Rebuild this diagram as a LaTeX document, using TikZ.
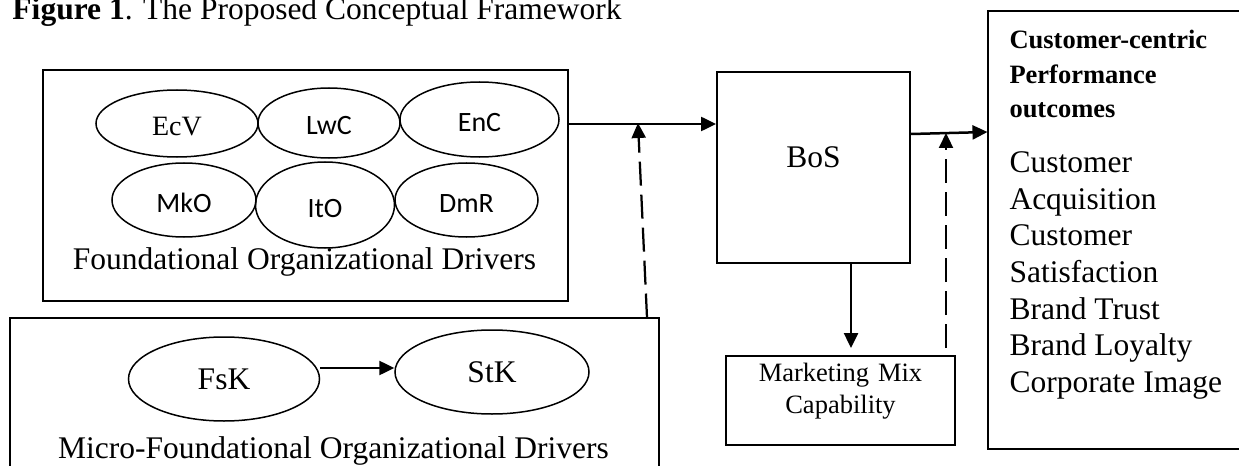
\documentclass[tikz,border=0pt]{standalone}
\usepackage{fontspec}
\setmainfont{Liberation Serif}
\newfontfamily\carlitofont{Carlito}
\usetikzlibrary{arrows.meta,shapes.geometric,fit}
\begin{document}
\begin{tikzpicture}[x=0.4pt,y=-0.4pt,
  box/.style={draw, line width=0.8pt, inner sep=0pt},
  ell/.style={draw, ellipse, line width=0.6pt, inner sep=0pt},
  sanslbl/.style={font=\carlitofont\fontsize{11.2}{13}\selectfont, text height=9.6pt, text depth=0pt},
  serlbl/.style={font=\fontsize{11.2}{13}\selectfont, text height=9.6pt, text depth=0pt},
  big/.style={font=\fontsize{12.6}{14.7}\selectfont},
  arr/.style={line width=1pt, -{Triangle[length=6pt,width=5.6pt]}},
  darr/.style={line width=0.9pt, dash pattern=on 9.6pt off 3.6pt, -{Triangle[length=6pt,width=5.6pt]}},
  border/.style={line width=0.8pt}
]
\useasboundingbox (0,0) rectangle (1239,466);

% title
\node[anchor=base west, inner sep=0pt, big] (title) at (12,20) {\textbf{Figure 1}. The Proposed Conceptual Framework};

% foundational box
\node[box, fit={(43,70) (568,301)}] (found) {};
\node[ell, serlbl, minimum width=64.8pt, minimum height=26.8pt] (ecv) at (177,123.5) {EcV};
\node[ell, sanslbl, minimum width=56.8pt, minimum height=28pt] (lwc) at (329,123) {LwC};
\node[ell, sanslbl, minimum width=63.6pt, minimum height=30pt] (enc) at (479.5,119.5) {EnC};
\node[ell, sanslbl, minimum width=57.6pt, minimum height=29.6pt] (mko) at (184,200) {MkO};
\node[ell, sanslbl, minimum width=55.6pt, minimum height=34.4pt] (ito) at (325,205) {ItO};
\node[ell, sanslbl, minimum width=57.2pt, minimum height=29.6pt] (dmr) at (466.5,200) {DmR};
\node[anchor=base, inner sep=0pt, big] (foundlbl) at (304.5,269) {Foundational Organizational Drivers};

% micro-foundational box (open at the bottom edge)
\node[fit={(10,318) (658,466)}, inner sep=0pt] (micro) {};
\draw[border] (micro.south west) -- (micro.north west) -- (micro.north east) -- (micro.south east);
\node[ell, big, minimum width=76.4pt, minimum height=33.6pt] (fsk) at (224,379) {FsK};
\node[ell, big, minimum width=77.6pt, minimum height=33.6pt] (stk) at (492,372) {StK};
\node[anchor=base, inner sep=0pt, big] (microlbl) at (333.5,458) {Micro-Foundational Organizational Drivers};
\coordinate (yfs) at (0,368);
\draw[arr] (fsk.east |- yfs) -- (stk.west |- yfs);

% BoS and marketing mix
\node[box, big, fit={(717,72) (910,263)}] (bos) {BoS};
\node[box, fit={(726,356) (955,445)}, align=center, font=\fontsize{10.6}{12.8}\selectfont] (mm) {Marketing Mix\\Capability};

% outcomes box (open at the right edge)
\node[fit={(988,12) (1239,448)}, inner sep=0pt] (out) {};
\draw[border] (out.north east) -- (out.north west) -- (out.south west) -- (out.south east);
\node[anchor=north west, inner sep=0pt, align=left, font=\bfseries\fontsize{10.6}{13.8}\selectfont] (head) at (1009,30) {Customer-centric\\Performance\\outcomes};
\node[anchor=north west, inner sep=0pt, align=left, font=\fontsize{12.6}{14.68}\selectfont] (list) at (1009,151) {Customer\\Acquisition\\Customer\\Satisfaction\\Brand Trust\\Brand Loyalty\\Corporate Image};

% connectors
\coordinate (ya) at (0,124);
\draw[arr] (found.east |- ya) -- (bos.west |- ya);
\coordinate (yb) at (0,134);
\coordinate (yo) at (0,132);
\draw[arr] (bos.east |- yb) -- (out.west |- yo);
\coordinate (xm) at (851,0);
\coordinate (xmt) at (851,348);
\draw[arr] (bos.south -| xm) -- (xmt);
\coordinate (d1x) at (647,0);
\coordinate (d1t) at (638,123);
\draw[darr] (micro.north -| d1x) -- (d1t);
\coordinate (d2b) at (946,348);
\coordinate (d2t) at (946,133);
\draw[darr] (d2b) -- (d2t);
\end{tikzpicture}
\end{document}
